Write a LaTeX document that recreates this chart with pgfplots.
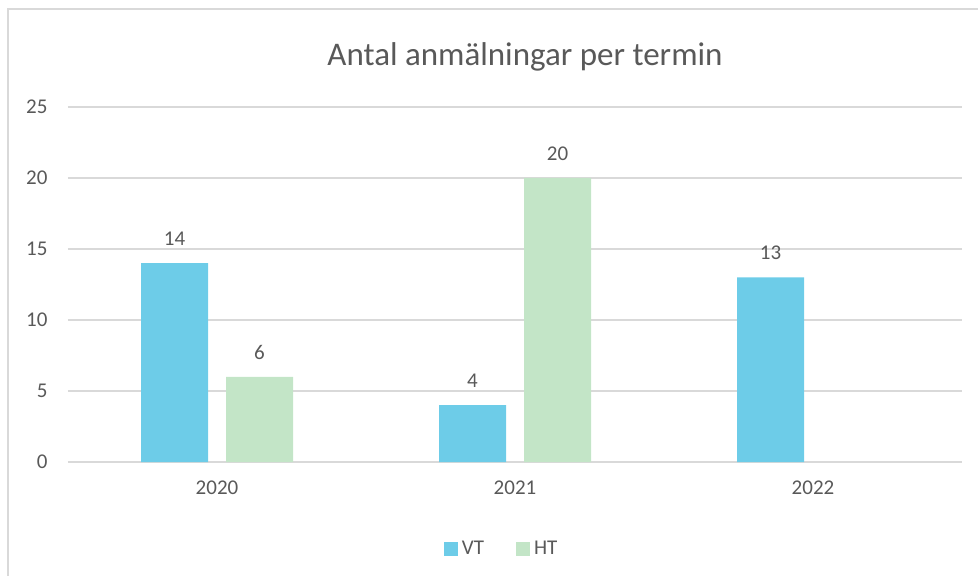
\documentclass[border=0pt]{standalone}
\usepackage{fontspec}
\setmainfont{Carlito}
\usepackage{pgfplots}
\pgfplotsset{compat=1.18}
\definecolor{vt}{HTML}{6DCCE8}
\definecolor{ht}{HTML}{C3E5C7}
\definecolor{txt}{HTML}{595959}
\definecolor{grd}{HTML}{D9D9D9}
\begin{document}
\begin{tikzpicture}
\useasboundingbox (0pt,0pt) rectangle (978pt,576pt);
\draw[grd,line width=1.5pt] (8pt,0pt) -- (8pt,567pt) -- (978pt,567pt);
\begin{axis}[
  at={(68pt,114pt)}, anchor=south west,
  scale only axis, width=894pt, height=355pt,
  ybar, bar width=67pt,
  xmin=-0.5, xmax=2.5, ymin=0, ymax=25,
  xtick=data, xticklabels={2020,2021,2022},
  ytick={0,5,...,25},
  ymajorgrids, grid style={grd,line width=1.2pt},
  axis line style={draw=none},
  tick style={draw=none},
  yticklabel style={font=\fontsize{21}{24}\selectfont,text=txt,xshift=-17pt},
  xticklabel style={font=\fontsize{21}{24}\selectfont,text=txt,yshift=-11pt},
  /pgf/number format/assume math mode=true,
  every node near coord/.append style={font=\fontsize{21}{24}\selectfont,text=txt,yshift=14pt},
  nodes near coords,
  title={Antal anmälningar per termin},
  title style={font=\fontsize{33}{38}\selectfont,text=txt,at={(0.5,1)},anchor=center,yshift=44pt,xshift=10pt},
  legend style={at={(0.485,-0.245)},anchor=center,draw=none,legend columns=2,
     font=\fontsize{21}{24}\selectfont,text=txt,
     /tikz/every odd column/.append style={column sep=2pt},
     /tikz/every even column/.append style={column sep=30pt}},
  legend image code/.code={\fill[#1] (0pt,-7pt) rectangle (14pt,7pt);},
]
\addplot[fill=vt,draw=none,bar shift=-42.5pt] coordinates {(0,14) (1,4) (2,13)};
\addplot[fill=ht,draw=none,bar shift=42.5pt] coordinates {(0,6) (1,20)};
\legend{VT,HT}
\end{axis}
\end{tikzpicture}
\end{document}
